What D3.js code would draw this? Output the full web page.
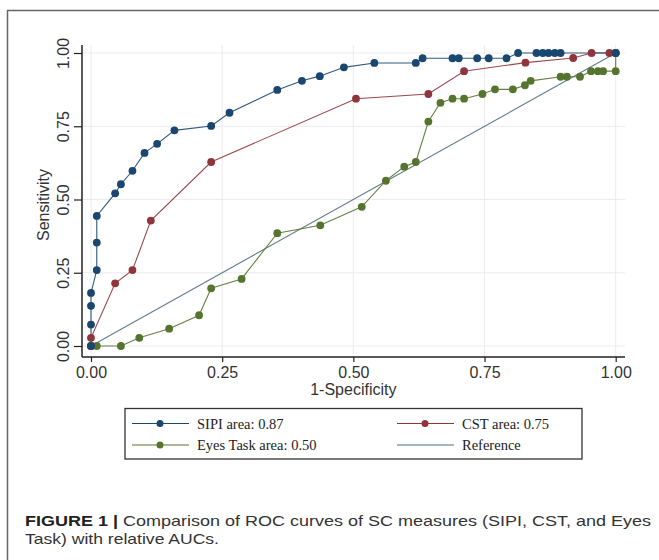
<!DOCTYPE html>
<html>
<head>
<meta charset="utf-8">
<script src="https://cdn.jsdelivr.net/npm/d3@7"></script>
<style>
  html, body { margin: 0; padding: 0; background: #fff; }
  svg { display: block; }
</style>
</head>
<body>
<svg id="chart" width="659" height="560"></svg>
<script>
// ---------- data ----------
const tickValues = [0, 0.25, 0.5, 0.75, 1];
const tickLabels = ["0.00", "0.25", "0.50", "0.75", "1.00"];

const sipiFPR = [0,0,0,0,0.011,0.011,0.011,0.046,0.057,0.079,0.102,0.126,0.159,0.229,0.264,0.355,0.402,0.436,0.482,0.540,0.619,0.632,0.689,0.701,0.736,0.758,0.792,0.814,0.849,0.861,0.872,0.884,0.895,1];
const sipiTPR = [0,0.073,0.137,0.181,0.259,0.353,0.444,0.521,0.552,0.598,0.659,0.690,0.736,0.751,0.796,0.874,0.905,0.921,0.951,0.966,0.966,0.982,0.982,0.982,0.982,0.982,0.982,1,1,1,1,1,1,1];

const cstFPR = [0,0,0.046,0.079,0.114,0.229,0.505,0.643,0.711,0.828,0.919,0.954,0.988,1];
const cstTPR = [0,0.028,0.214,0.259,0.428,0.628,0.844,0.860,0.938,0.967,0.983,1,1,1];

const eyesFPR = [0,0.011,0.057,0.092,0.149,0.206,0.229,0.287,0.355,0.437,0.516,0.562,0.597,0.619,0.643,0.666,0.689,0.711,0.746,0.770,0.804,0.827,0.838,0.895,0.907,0.932,0.953,0.966,0.976,1,1];
const eyesTPR = [0,0,0,0.028,0.059,0.105,0.197,0.229,0.385,0.412,0.475,0.564,0.612,0.628,0.766,0.830,0.844,0.844,0.860,0.876,0.876,0.890,0.905,0.919,0.919,0.919,0.938,0.938,0.938,0.938,1];

const refFPR = [0, 1];
const refTPR = [0, 1];

const seriesNames = ["SIPI area: 0.87", "CST area: 0.75", "Eyes Task area: 0.50", "Reference"];
const seriesColors = ["#1a476f", "#90353b", "#55752f", "#4f6f7c"];

const xTitle = "1-Specificity";
const yTitle = "Sensitivity";
const captionBold = "FIGURE 1 |";
const captionLine1 = " Comparison of ROC curves of SC measures (SIPI, CST, and Eyes";
const captionLine2 = "Task) with relative AUCs.";

// ---------- drawing ----------
const svg = d3.select("#chart");

// outer frame
svg.append("rect")
  .attr("x", 7.5).attr("y", 10.5)
  .attr("width", 700).attr("height", 600)
  .attr("fill", "none").attr("stroke", "#666").attr("stroke-width", 1.5);

const x = d3.scaleLinear().domain([0, 1]).range([91, 615.7]);
const y = d3.scaleLinear().domain([0, 1]).range([346, 53]);

const plotLeft = 82, plotRight = 625, plotTop = 45, plotBottom = 357;

// gridlines
const grid = svg.append("g");
grid.selectAll("line.gx").data(tickValues).enter().append("line")
  .attr("x1", d => x(d)).attr("x2", d => x(d))
  .attr("y1", plotTop).attr("y2", plotBottom)
  .attr("stroke", "#ececec").attr("stroke-width", 1);
grid.selectAll("line.gy").data(tickValues).enter().append("line")
  .attr("y1", d => y(d)).attr("y2", d => y(d))
  .attr("x1", plotLeft).attr("x2", plotRight)
  .attr("stroke", "#ececec").attr("stroke-width", 1);

// axes
const xAxis = d3.axisBottom(x).tickValues(tickValues)
  .tickFormat((d, i) => tickLabels[i]).tickSize(5).tickPadding(4);
const gx = svg.append("g").attr("transform", `translate(0,${plotBottom})`).call(xAxis);
gx.select(".domain").remove();
gx.selectAll(".tick line").attr("stroke", "#222").attr("stroke-width", 1.2);
gx.selectAll(".tick text")
  .attr("font-family", "'Liberation Sans', Arial, sans-serif")
  .attr("font-size", 16).attr("fill", "#333").attr("dy", "0.72em");

const yAxis = d3.axisLeft(y).tickValues(tickValues)
  .tickFormat((d, i) => tickLabels[i]).tickSize(8);
const gy = svg.append("g").attr("transform", `translate(${plotLeft},0)`).call(yAxis);
gy.select(".domain").remove();
gy.selectAll(".tick line").attr("stroke", "#222").attr("stroke-width", 1.2);
gy.selectAll(".tick text")
  .attr("font-family", "'Liberation Sans', Arial, sans-serif")
  .attr("font-size", 16).attr("fill", "#333")
  .attr("x", 0).attr("dy", 0)
  .attr("text-anchor", "middle")
  .attr("transform", "translate(-13,0) rotate(-90)");

// axis lines
svg.append("line").attr("x1", plotLeft).attr("x2", plotLeft)
  .attr("y1", plotTop).attr("y2", plotBottom)
  .attr("stroke", "#222").attr("stroke-width", 1.5);
svg.append("line").attr("x1", plotLeft).attr("x2", plotRight)
  .attr("y1", plotBottom).attr("y2", plotBottom)
  .attr("stroke", "#222").attr("stroke-width", 1.5);

// axis titles
svg.append("text").text(xTitle)
  .attr("x", (x(0) + x(1)) / 2).attr("y", 395)
  .attr("text-anchor", "middle")
  .attr("font-family", "'Liberation Sans', Arial, sans-serif")
  .attr("font-size", 16).attr("fill", "#333");
svg.append("text").text(yTitle)
  .attr("transform", `translate(49,${(plotTop + plotBottom) / 2 + 4}) rotate(-90)`)
  .attr("text-anchor", "middle")
  .attr("font-family", "'Liberation Sans', Arial, sans-serif")
  .attr("font-size", 16).attr("fill", "#333");

// series
const series = [
  { fx: refFPR, ty: refTPR, color: seriesColors[3], markers: false },
  { fx: eyesFPR, ty: eyesTPR, color: seriesColors[2], markers: true },
  { fx: cstFPR, ty: cstTPR, color: seriesColors[1], markers: true },
  { fx: sipiFPR, ty: sipiTPR, color: seriesColors[0], markers: true }
];
const line = d3.line().x(d => x(d[0])).y(d => y(d[1]));

series.forEach(s => {
  const pts = s.fx.map((v, i) => [v, s.ty[i]]);
  svg.append("path").datum(pts)
    .attr("d", line).attr("fill", "none")
    .attr("stroke", s.color).attr("stroke-width", 1.1).attr("stroke-opacity", 0.9);
});
series.forEach(s => {
  if (!s.markers) return;
  const pts = s.fx.map((v, i) => [v, s.ty[i]]);
  svg.append("g").selectAll("circle").data(pts).enter().append("circle")
    .attr("cx", d => x(d[0])).attr("cy", d => y(d[1])).attr("r", 3.9)
    .attr("fill", s.color);
});

// legend
const lg = svg.append("g");
lg.append("rect").attr("x", 125).attr("y", 408.5).attr("width", 457).attr("height", 50.5)
  .attr("fill", "#fff").attr("stroke", "#333").attr("stroke-width", 1.3);
const legendItems = [
  { name: seriesNames[0], color: seriesColors[0], x0: 132, y0: 423.5, marker: true },
  { name: seriesNames[1], color: seriesColors[1], x0: 397, y0: 423.5, marker: true },
  { name: seriesNames[2], color: seriesColors[2], x0: 132, y0: 445, marker: true },
  { name: seriesNames[3], color: seriesColors[3], x0: 397, y0: 445, marker: false }
];
legendItems.forEach(it => {
  lg.append("line").attr("x1", it.x0).attr("x2", it.x0 + 57)
    .attr("y1", it.y0).attr("y2", it.y0)
    .attr("stroke", it.color).attr("stroke-width", 1.1);
  if (it.marker) {
    lg.append("circle").attr("cx", it.x0 + 28).attr("cy", it.y0).attr("r", 3.5)
      .attr("fill", it.color);
  }
  lg.append("text").text(it.name)
    .attr("x", it.x0 + 65).attr("y", it.y0 + 5)
    .attr("font-family", "'Liberation Serif', 'Times New Roman', serif")
    .attr("font-size", 14.5).attr("fill", "#222");
});

// caption
const cap = svg.append("g")
  .attr("font-family", "'Liberation Sans', Arial, sans-serif")
  .attr("font-size", 15).attr("fill", "#333");
const t1 = cap.append("text").attr("x", 25).attr("y", 525.5)
  .attr("textLength", 626).attr("lengthAdjust", "spacingAndGlyphs");
t1.append("tspan").attr("font-weight", "bold").attr("fill", "#222").text(captionBold);
t1.append("tspan").text(captionLine1);
cap.append("text").attr("x", 25).attr("y", 543.5)
  .attr("textLength", 194).attr("lengthAdjust", "spacingAndGlyphs")
  .text(captionLine2);
</script>
</body>
</html>
